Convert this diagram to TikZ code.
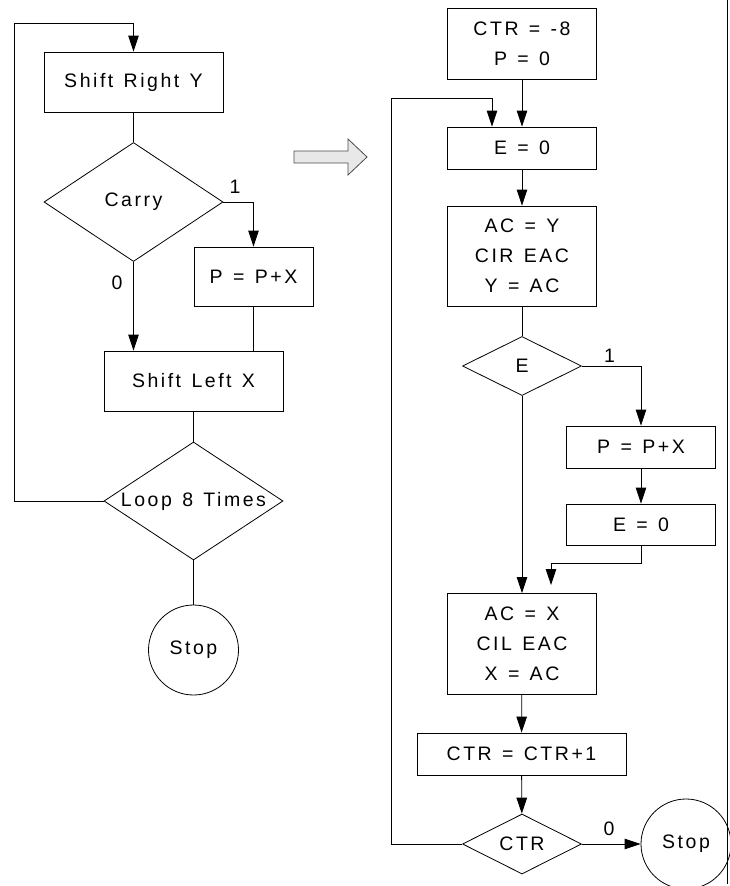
\documentclass[tikz,border=0pt]{standalone}
\usepackage{fontspec}
\usepackage{tikz}
\usetikzlibrary{arrows.meta,shapes.geometric}
\newfontfamily\flowfont[LetterSpace=13,WordSpace=1.3]{Liberation Sans}

\tikzset{
  dtext/.style={font=\flowfont\fontsize{19.5}{30}\selectfont, inner sep=0pt},
  procbox/.style={draw, rectangle, inner sep=0pt, align=center,
    font=\flowfont\fontsize{19.5}{30}\selectfont},
  decide/.style={draw, diamond, inner sep=0pt},
  stopnode/.style={draw, circle, inner sep=0pt, minimum size=90pt,
    font=\flowfont\fontsize{19.5}{30}\selectfont},
  flow/.style={-{Triangle[length=16pt,width=10.5pt]}},
  branch/.style={font=\flowfont\fontsize{19.5}{30}\selectfont}
}

\begin{document}
\begin{tikzpicture}[x=1pt, y=-1pt, line width=0.8pt]
    \useasboundingbox (0,0) rectangle (730,886);

    % Left chart: the plain loop
    \node[procbox, minimum width=179pt, minimum height=60pt] (shr) at (133.5,82) {Shift Right Y};
    \node[decide, minimum width=179pt, minimum height=119pt,
          label={[dtext]center:Carry}] (carry) at (133.5,202) {};
    \node[procbox, minimum width=119pt, minimum height=59pt] (addl) at (253.5,276.5) {P = P+X};
    \node[procbox, minimum width=179pt, minimum height=60pt] (shl) at (193.5,381) {Shift Left X};
    \node[decide, minimum width=179pt, minimum height=118pt,
          label={[dtext]center:Loop 8 Times}] (loop) at (193.5,501) {};
    \node[stopnode] (stopl) at (193.5,650) {Stop};

    \node[branch] (onel) at (235,187) {1};
    \node[branch] (zerol) at (117,283) {0};

    \coordinate (lcorner) at (14,23);
    \draw[flow] (loop.west) -| (lcorner) -| (shr.north);
    \draw (shr) -- (carry);
    \draw[flow] (carry.east) -| (addl.north);
    \draw[flow] (carry.south) -- (carry.south |- shl.north);
    \draw (addl.south) -- (addl.south |- shl.north);
    \draw (shl) -- (loop);
    \draw (loop) -- (stopl);

    % Hollow arrow between the two charts
    \draw[fill=gray!18, draw=black!70]
        (294,151) -- (348,151) -- (348,139) -- (367,157)
        -- (348,175) -- (348,163) -- (294,163) -- cycle;

    % Right chart: with counter and E flag
    \node[procbox, minimum width=149pt, minimum height=71pt] (init) at (522,44) {CTR = -8\\P = 0};
    \node[procbox, minimum width=149pt, minimum height=42pt] (eclr) at (522,148) {E = 0};
    \node[procbox, minimum width=149pt, minimum height=100pt] (rshift) at (522,256) {AC = Y\\CIR EAC\\Y = AC};
    \node[decide, minimum width=119pt, minimum height=59pt,
          label={[dtext]center:E}] (etest) at (522,366) {};
    \node[procbox, minimum width=149pt, minimum height=42pt] (addr) at (641,447) {P = P+X};
    \node[procbox, minimum width=149pt, minimum height=41pt] (eclrb) at (641,524.5) {E = 0};
    \node[procbox, minimum width=149pt, minimum height=101pt] (lshift) at (522,644) {AC = X\\CIL EAC\\X = AC};
    \node[procbox, minimum width=209pt, minimum height=42pt] (inc) at (521.5,754) {CTR = CTR+1};
    \node[decide, minimum width=119pt, minimum height=60pt,
          label={[dtext]center:CTR}] (ctr) at (522,844) {};
    \node[stopnode] (stopr) at (686,844) {Stop};

    \node[branch] (oner) at (609.5,356) {1};
    \node[branch] (zeror) at (609,829) {0};

    \coordinate (rcorner) at (391,98);
    \coordinate (rentry) at (492,98);
    \coordinate (mbend) at (551,563);
    \coordinate (mtip) at (551,585);

    \draw[flow] (init) -- (eclr);
    \draw[flow] (ctr.west) -| (rcorner) -- (rentry) -- (rentry |- eclr.north);
    \draw[flow] (eclr) -- (rshift);
    \draw (rshift) -- (etest);
    \draw[flow] (etest.east) -| (addr.north);
    \draw[flow] (addr) -- (eclrb);
    \draw[flow] (eclrb.south) |- (mbend) -- (mtip);
    \draw[flow] (etest.south) -- (lshift.north);
    \draw[flow] (lshift) -- (inc);
    \draw[flow] (inc) -- (ctr);
    \draw[flow] (ctr.east) -- (stopr.west);

    % Right border line
    \coordinate (btop) at (727,0);
    \coordinate (bbot) at (727,884);
    \draw (btop) -- (bbot);
\end{tikzpicture}
\end{document}
